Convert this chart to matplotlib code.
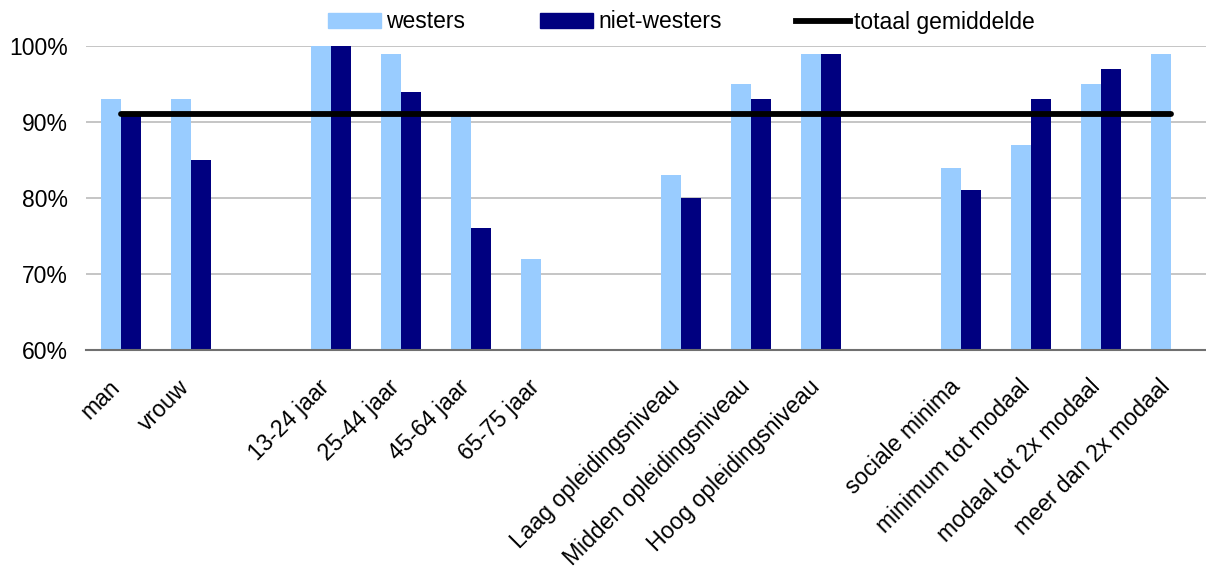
import numpy as np
import matplotlib.pyplot as plt
from matplotlib.patches import Patch
from matplotlib.lines import Line2D
from matplotlib.transforms import ScaledTranslation

plt.rcParams['font.family'] = ['Liberation Sans', 'DejaVu Sans']

# lege strings zijn witruimte tussen de groepen
categorieen = ["man", "vrouw", "",
               "13-24 jaar", "25-44 jaar", "45-64 jaar", "65-75 jaar", "",
               "Laag opleidingsniveau", "Midden opleidingsniveau", "Hoog opleidingsniveau", "",
               "sociale minima", "minimum tot modaal", "modaal tot 2x modaal", "meer dan 2x modaal"]
westers = [93, 93, np.nan,
           100, 99, 91, 72, np.nan,
           83, 95, 99, np.nan,
           84, 87, 95, 99]
niet_westers = [91, 85, np.nan,
                100, 94, 76, np.nan, np.nan,
                80, 93, 99, np.nan,
                81, 93, 97, np.nan]
totaal_gemiddelde = 91

y_ticks = [60, 70, 80, 90, 100]

licht = "#99CCFF"
donker = "#000080"

fig = plt.figure(figsize=(12.06, 5.69), dpi=100)
ax = fig.add_axes([86 / 1206, 1 - 350 / 569, 1 - 86 / 1206, (350 - 46) / 569])

x = np.arange(len(categorieen))
b = 0.29
ax.bar(x - b / 2, np.array(westers) - 60, b, bottom=60, color=licht, zorder=2)
ax.bar(x + b / 2, np.array(niet_westers) - 60, b, bottom=60, color=donker, zorder=2)
ax.plot([x[0], x[-1]], [totaal_gemiddelde, totaal_gemiddelde], color="black",
        lw=4.2, solid_capstyle="round", zorder=3)

ax.set_xlim(-0.5, len(categorieen) - 0.5)
ax.set_ylim(60, 100)
ax.set_yticks(y_ticks)
ax.set_yticklabels([f"{v}%" for v in y_ticks], fontsize=16.5)
ax.yaxis.grid(True, color="#BBBBBB", lw=1.2, zorder=0)
ax.tick_params(axis="y", length=0, pad=13)
ax.tick_params(axis="x", length=0, pad=14)

ax.set_xticks(x)
ax.set_xticklabels(categorieen, rotation=45, ha="right", rotation_mode="anchor", fontsize=16.6)
verschuif = ScaledTranslation(-13 / 100, -6 / 100, fig.dpi_scale_trans)
for lbl in ax.get_xticklabels():
    lbl.set_transform(lbl.get_transform() + verschuif)

for s in ["left", "right", "top"]:
    ax.spines[s].set_visible(False)
ax.spines["bottom"].set_color("#707070")
ax.spines["bottom"].set_linewidth(1.5)
ax.spines["bottom"].set_zorder(4)

handles = [Patch(color=licht, label="westers"),
           Patch(color=donker, label="niet-westers"),
           Line2D([], [], color="black", lw=4.2, label="totaal gemiddelde")]
fig.legend(handles=handles, loc="center", bbox_to_anchor=(0.565, 1 - 22 / 569), ncol=3,
           frameon=False, fontsize=16.5, handlelength=2.35, handleheight=0.62,
           handletextpad=0.2, columnspacing=3.25)

fig.savefig("out.png", dpi=100)
